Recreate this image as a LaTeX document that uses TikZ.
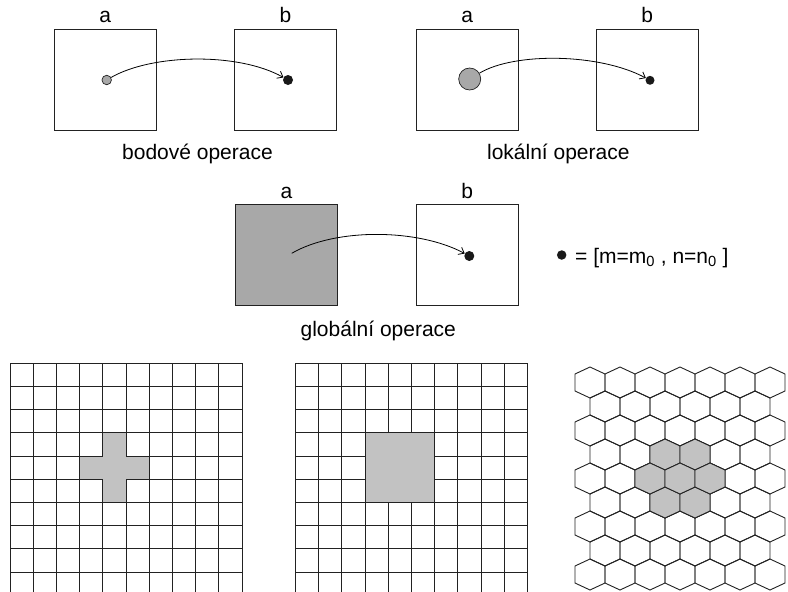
\documentclass[tikz,border=0pt]{standalone}
\usepackage{fontspec}
\setmainfont{Liberation Sans}
\usetikzlibrary{arrows.meta}

\definecolor{cellgray}{HTML}{C2C2C2}
\definecolor{dotgray}{HTML}{A8A8A8}
\definecolor{inkgray}{HTML}{222222}

% one hexagon round a centre (x, y)
\newcommand{\hexcell}[3][gridline]{%
  \path[#1] ({#2},{#3}) +(0,-15.5) -- +(15,-8.5) -- +(15,8.5) -- +(0,15.5)
    -- +(-15,8.5) -- +(-15,-8.5) -- cycle;}

\begin{document}
\begin{tikzpicture}[
    x=1pt, y=-1pt,
    every node/.style={font=\fontsize{21}{25}\selectfont},
    frame/.style={draw=inkgray, line width=0.9pt, minimum width=101.5pt, minimum height=101pt, inner sep=0pt},
    lbl/.style={anchor=base, inner sep=0pt},
    graydot/.style={circle, draw=inkgray, fill=dotgray, line width=0.7pt, inner sep=0pt, minimum size=9.5pt},
    blackdot/.style={circle, fill=black!90, inner sep=0pt, minimum size=10pt},
    maparrow/.style={-{Straight Barb[length=5pt,width=8pt]}, line width=0.8pt, black},
    gridline/.style={draw=inkgray, line width=0.9pt}
]
\useasboundingbox (0,0) rectangle (788,592);

% bodove operace
\node[frame] (a1) at (105.2,79.5) {};
\node[frame] (b1) at (285.5,79.5) {};
\node[lbl] (la1) at ([yshift=5.7pt]a1.north) {a};
\node[lbl] (lb1) at ([yshift=5.7pt]b1.north) {b};
\node[graydot] (p1) at (106.7,80) {};
\node[blackdot] (q1) at (288,80) {};
\draw[maparrow] (p1) .. controls +(45,-26) and +(-50,-28) .. (q1);
\node[lbl] (t1) at (197.5,159.5) {bodové operace};

% lokalni operace
\node[frame] (a2) at (467.3,79.5) {};
\node[frame] (b2) at (647.2,79.5) {};
\node[lbl] (la2) at ([yshift=5.7pt]a2.north) {a};
\node[lbl] (lb2) at ([yshift=5.7pt]b2.north) {b};
\node[graydot, minimum size=22pt] (p2) at (469.7,79) {};
\node[blackdot, minimum size=9pt] (q2) at (650,80.3) {};
\draw[maparrow] (p2) .. controls +(45,-27) and +(-50,-27) .. (q2);
\node[lbl] (t2) at (558.3,159.5) {lokální operace};

% globalni operace
\node[frame, fill=dotgray] (a3) at (286.5,254.8) {};
\node[frame] (b3) at (467.2,254.8) {};
\node[lbl] (la3) at ([yshift=5.7pt]a3.north) {a};
\node[lbl] (lb3) at ([yshift=5.7pt]b3.north) {b};
\coordinate (p3) at (291.7,253.3);
\node[blackdot] (q3) at (469.3,256) {};
\draw[maparrow] (p3) .. controls +(45,-26) and +(-50,-27) .. (q3);
\node[lbl] (t3) at (378.3,336.7) {globální operace};

% legenda
\node[blackdot, minimum size=9.5pt] (key) at (561.7,255) {};
\node[lbl, anchor=base west] (keytext) at (575,263.3) {= [m=m\textsubscript{0} , n=n\textsubscript{0} ]};

\begin{scope}
\clip (0,340) rectangle (788,592);
% ctyrokoli
\begin{scope}[shift={(10,363.3)}, x=23.2pt, y=-23.2pt]
  \foreach \i in {0,...,10} \draw[gridline] (\i,0) -- (\i,10.5);
  \foreach \j in {0,...,10} \draw[gridline] (0,\j) -- (10,\j);
  \draw[gridline, fill=cellgray] (4,3) -- (5,3) -- (5,4) -- (6,4) -- (6,5) -- (5,5)
    -- (5,6) -- (4,6) -- (4,5) -- (3,5) -- (3,4) -- (4,4) -- cycle;
\end{scope}
% osmiokoli
\begin{scope}[shift={(295.5,363.3)}, x=23.2pt, y=-23.2pt]
  \foreach \i in {0,...,10} \draw[gridline] (\i,0) -- (\i,10.5);
  \foreach \j in {0,...,10} \draw[gridline] (0,\j) -- (10,\j);
  \draw[gridline, fill=cellgray] (3,3) rectangle (6,6);
\end{scope}
% hexagonalni mrizka
\foreach \r in {0,2,4,6,8}
  \foreach \c in {0,...,6} \hexcell{590+30*\c}{382.5+24*\r};
\foreach \r in {1,3,5,7}
  \foreach \c in {0,...,5} \hexcell{605+30*\c}{382.5+24*\r};
\foreach \c/\r in {2/3,3/3,2/5,3/5}
  \hexcell[gridline, fill=cellgray]{605+30*\c}{382.5+24*\r};
\foreach \c in {2,3,4}
  \hexcell[gridline, fill=cellgray]{590+30*\c}{382.5+24*4};
\end{scope}
\end{tikzpicture}
\end{document}
